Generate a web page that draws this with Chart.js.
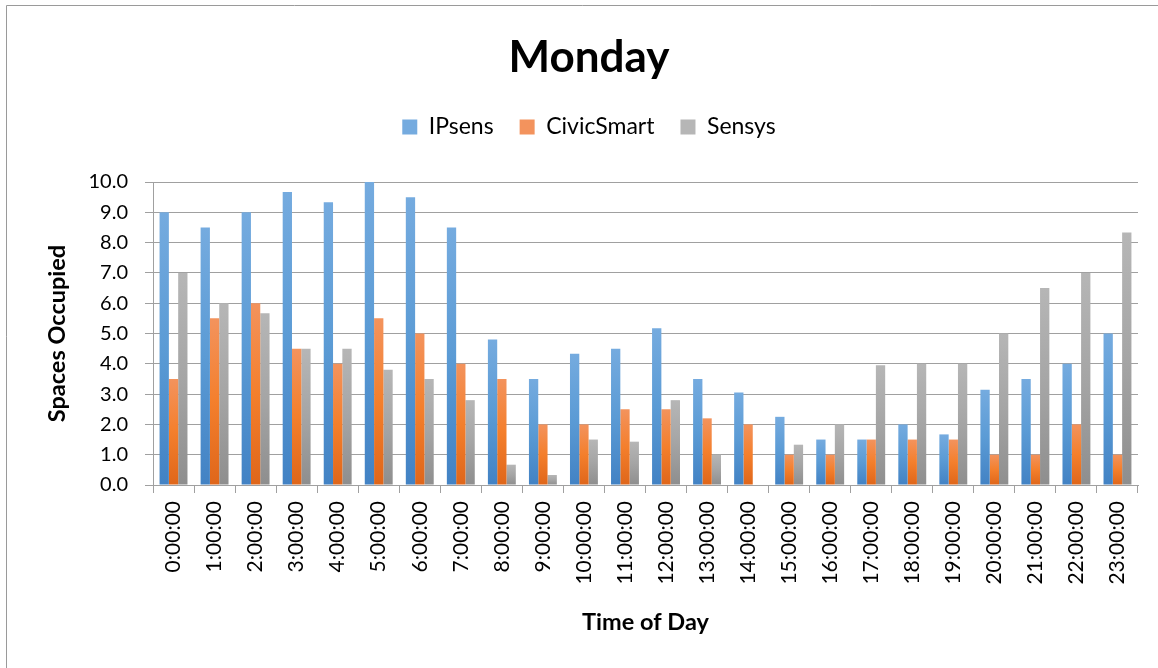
<!DOCTYPE html>
<html>
<head>
<meta charset="utf-8">
<script src="https://cdn.jsdelivr.net/npm/chart.js@4"></script>
<style>
html,body{margin:0;padding:0;background:#fff;}
#wrap{width:1158px;height:668px;}
</style>
</head>
<body>
<div id="wrap"><canvas id="c" width="1158" height="668"></canvas></div>
<script>
const categories = ['0:00:00','1:00:00','2:00:00','3:00:00','4:00:00','5:00:00','6:00:00','7:00:00','8:00:00','9:00:00','10:00:00','11:00:00','12:00:00','13:00:00','14:00:00','15:00:00','16:00:00','17:00:00','18:00:00','19:00:00','20:00:00','21:00:00','22:00:00','23:00:00'];
const ipsens     = [9.0, 8.5, 9.0, 9.67, 9.33, 10.0, 9.5, 8.5, 4.8, 3.5, 4.33, 4.5, 5.17, 3.5, 3.05, 2.25, 1.5, 1.5, 2.0, 1.67, 3.14, 3.5, 4.0, 5.0];
const civicSmart = [3.5, 5.5, 6.0, 4.5, 4.0, 5.5, 5.0, 4.0, 3.5, 2.0, 2.0, 2.5, 2.5, 2.2, 2.0, 1.0, 1.0, 1.5, 1.5, 1.5, 1.0, 1.0, 2.0, 1.0];
const sensys     = [7.0, 6.0, 5.67, 4.5, 4.5, 3.8, 3.5, 2.8, 0.67, 0.33, 1.5, 1.43, 2.8, 1.0, 0.0, 1.33, 2.0, 3.95, 4.0, 4.0, 5.0, 6.5, 7.0, 8.33];
const yTickMin = 0, yTickMax = 10, yTickStep = 1;

const FONT = 'Lato, "Open Sans", sans-serif';

function barColor(stops) {
  return (context) => {
    const chart = context.chart;
    const {ctx, chartArea, scales} = chart;
    if (!chartArea || context.type !== 'data' || !scales.y) return stops[1];
    const yTop = scales.y.getPixelForValue(context.raw);
    const yBot = scales.y.getPixelForValue(0);
    if (!(yBot - yTop > 0.5)) return stops[1];
    const g = ctx.createLinearGradient(0, yTop, 0, yBot);
    g.addColorStop(0, stops[0]);
    g.addColorStop(0.5, stops[1]);
    g.addColorStop(1, stops[2]);
    return g;
  };
}

const frame = {
  id: 'frame',
  beforeDraw(chart) {
    const ctx = chart.ctx;
    ctx.save();
    ctx.strokeStyle = '#9a9a9a';
    ctx.lineWidth = 1;
    ctx.beginPath();
    ctx.moveTo(6.5, 668);
    ctx.lineTo(6.5, 5.5);
    ctx.lineTo(1158, 5.5);
    ctx.stroke();
    ctx.restore();
  }
};

const legendGap = {
  id: 'legendGap',
  afterInit(chart) {
    const lg = chart.legend;
    if (lg && !lg._gapPatched) {
      const orig = lg.fit.bind(lg);
      lg.fit = function() { orig(); this.height += 33.5; };
      lg._gapPatched = true;
    }
  }
};

new Chart(document.getElementById('c'), {
  type: 'bar',
  data: {
    labels: categories,
    datasets: [
      {label: 'IPsens', data: ipsens, backgroundColor: barColor(['#75abdf','#5b9bd5','#4282c4'])},
      {label: 'CivicSmart', data: civicSmart, backgroundColor: barColor(['#f3935d','#f47f2c','#df661a'])},
      {label: 'Sensys', data: sensys, backgroundColor: barColor(['#b6b6b6','#a5a5a5','#8e8e8e'])}
    ]
  },
  options: {
    responsive: false,
    animation: false,
    devicePixelRatio: 1,
    layout: {padding: {left: 40, right: 20, top: 0, bottom: 0}},
    datasets: {bar: {categoryPercentage: 0.68, barPercentage: 1.0, borderWidth: 0}},
    plugins: {
      title: {
        display: true, text: 'Monday', color: '#000',
        font: {family: FONT, size: 44, weight: 'bold', lineHeight: 1.2},
        padding: {top: 31.6, bottom: 5.1}
      },
      legend: {
        display: true, position: 'top',
        labels: {
          color: '#000', boxWidth: 15, boxHeight: 15, padding: 26,
          font: {family: FONT, size: 23}
        }
      },
      tooltip: {enabled: false}
    },
    scales: {
      x: {
        grid: {display: true, drawOnChartArea: false, drawTicks: true, tickLength: 8, color: '#a0a0a0', offset: true},
        border: {display: true, color: '#a0a0a0'},
        ticks: {color: '#000', font: {family: FONT, size: 21}, minRotation: 90, maxRotation: 90, padding: 8, autoSkip: false},
        title: {display: true, text: 'Time of Day', color: '#000', font: {family: FONT, size: 23.5, weight: 'bold', lineHeight: 1.2}, padding: {top: 0, bottom: 31.9}},
        afterFit(scale) { scale.height = 183; }
      },
      y: {
        min: yTickMin, max: yTickMax,
        grid: {color: '#a0a0a0', drawTicks: true, tickLength: 8},
        border: {display: true, color: '#a0a0a0'},
        ticks: {stepSize: yTickStep, color: '#000', font: {family: FONT, size: 20}, padding: 17, callback: (v) => Number(v).toFixed(1)},
        title: {display: true, text: 'Spaces Occupied', color: '#000', font: {family: FONT, size: 23.5, weight: 'bold', lineHeight: 1.2}, padding: {top: 2.9, bottom: 0}},
        afterFit(scale) { scale.width = 113; }
      }
    }
  },
  plugins: [frame, legendGap]
});
</script>
</body>
</html>
